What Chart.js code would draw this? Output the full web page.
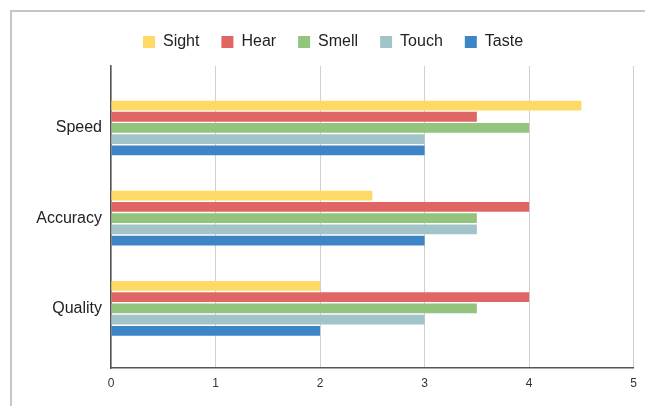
<!DOCTYPE html>
<html>
<head>
<meta charset="utf-8">
<script src="https://cdn.jsdelivr.net/npm/chart.js@4"></script>
<style>
  html, body { margin: 0; padding: 0; background: #fff; overflow: hidden; }
  #frame {
    position: absolute; left: 10px; top: 10px;
    width: 700px; height: 500px;
    border: 2px solid #c6c6c6;
  }
  #wrap { position: absolute; left: 0; top: 0; width: 645px; height: 406px; }
</style>
</head>
<body>
<div id="frame"></div>
<div id="wrap"><canvas id="chart"></canvas></div>
<script>
// ===========================
// Data
const categories = ["Speed", "Accuracy", "Quality"];
const seriesNames = ["Sight", "Hear", "Smell", "Touch", "Taste"];
const sight = [4.5, 2.5, 2];
const hear = [3.5, 4, 4];
const smell = [4, 3.5, 3.5];
const touch = [3, 3.5, 3];
const taste = [3, 3, 2];
const xTicks = [0, 1, 2, 3, 4, 5];

const seriesValues = [sight, hear, smell, touch, taste];
const colors = ["#FFD966", "#E06666", "#93C47D", "#A2C4C9", "#3D85C6"];

const font = "'Liberation Sans', Arial, sans-serif";

// extra gap under the legend
const legendGap = {
  id: "legendGap",
  beforeLayout(chart) {
    const lg = chart.legend;
    if (lg && !lg._gapPatched) {
      const fit = lg.fit;
      lg.fit = function () { fit.call(this); this.height += 6; };
      lg._gapPatched = true;
    }
  },
};

// ===========================
// Chart
new Chart(document.getElementById("chart"), {
  type: "bar",
  plugins: [legendGap],
  data: {
    datasets: seriesNames.map((name, i) => ({
      label: name,
      backgroundColor: colors[i],
      borderWidth: 0,
      categoryPercentage: 0.622,
      barPercentage: 0.87,
      data: seriesValues[i].map((v, j) => ({ x: v, y: j })),
    })),
  },
  options: {
    indexAxis: "y",
    responsive: true,
    maintainAspectRatio: false,
    animation: false,
    layout: { padding: { left: 30, right: 9, top: 12, bottom: 0 } },
    plugins: {
      tooltip: { enabled: false },
      legend: {
        position: "top",
        labels: {
          boxWidth: 12,
          boxHeight: 12,
          padding: 22,
          color: "#222",
          font: { family: font, size: 16 },
        },
      },
    },
    scales: {
      x: {
        type: "linear",
        min: xTicks[0],
        max: xTicks[xTicks.length - 1],
        afterBuildTicks: s => { s.ticks = xTicks.map(v => ({ value: v })); },
        afterFit: s => { s.height = 38; },
        grid: { color: "#d0d0d0", lineWidth: 1, drawTicks: false },
        border: { color: "#555", width: 1.5 },
        ticks: { color: "#333", padding: 8, font: { family: font, size: 12 } },
      },
      y: {
        type: "linear",
        reverse: true,
        offset: false,
        bounds: "data",
        min: -0.687,
        max: 2.661,
        afterBuildTicks: s => { s.ticks = categories.map((c, i) => ({ value: i })); },
        afterFit: s => { s.width = 81; },
        grid: { display: false, offset: false, drawTicks: false },
        border: { color: "#555", width: 1.5 },
        ticks: {
          color: "#222",
          padding: 9,
          font: { family: font, size: 16 },
          callback: v => categories[v],
        },
      },
    },
  },
});
</script>
</body>
</html>
